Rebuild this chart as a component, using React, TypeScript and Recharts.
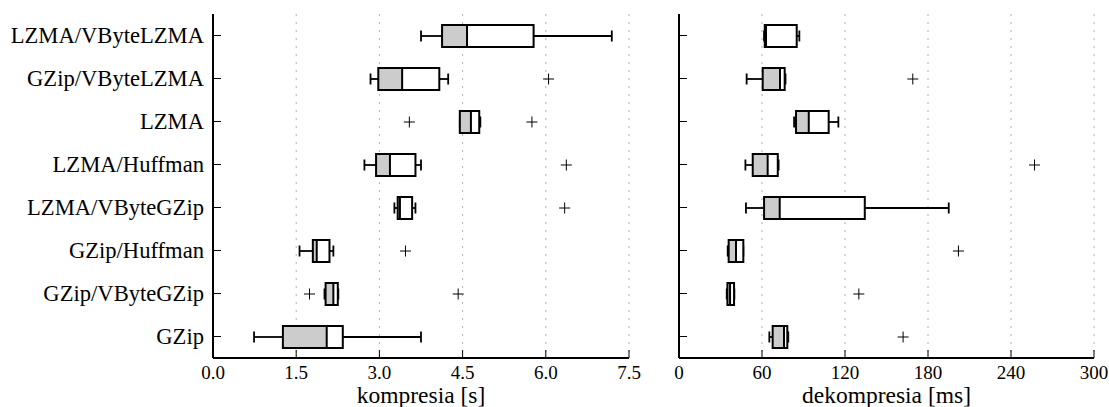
import { ComposedChart, Bar, XAxis, YAxis, CartesianGrid } from "recharts";

const categories = [
  "LZMA/VByteLZMA",
  "GZip/VByteLZMA",
  "LZMA",
  "LZMA/Huffman",
  "LZMA/VByteGZip",
  "GZip/Huffman",
  "GZip/VByteGZip",
  "GZip",
];

// kompresia [s]
const compLow = [3.75, 2.84, 4.45, 2.73, 3.27, 1.56, 2.01, 0.74];
const compQ1 = [4.13, 2.98, 4.45, 2.94, 3.33, 1.8, 2.03, 1.26];
const compMedian = [4.58, 3.41, 4.65, 3.19, 3.37, 1.87, 2.17, 2.05];
const compQ3 = [5.78, 4.08, 4.8, 3.65, 3.59, 2.1, 2.25, 2.34];
const compHigh = [7.19, 4.24, 4.82, 3.75, 3.65, 2.17, 2.26, 3.75];
const compOutliers = [[], [6.05], [3.54, 5.75], [6.37], [6.34], [3.47], [1.74, 4.42], []];
const compTicks = [0, 1.5, 3, 4.5, 6, 7.5];

// dekompresia [ms]
const decLow = [61.5, 48.9, 83.2, 48, 48.4, 35.2, 34.5, 65.3];
const decQ1 = [62, 60.5, 84.6, 53.3, 61.5, 35.9, 35, 67.7];
const decMedian = [62.9, 73, 93.8, 64.1, 72.8, 41.2, 36.9, 75.9];
const decQ3 = [85.1, 76.4, 108.2, 71.4, 134.3, 46.5, 39.8, 78.3];
const decHigh = [87, 77, 115.2, 72, 195, 46.5, 40, 79];
const decOutliers = [[], [169], [], [257], [], [202], [130], [162]];
const decTicks = [0, 60, 120, 180, 240, 300];

const FONT = "Liberation Serif";

type Row = {
  name: string;
  low: number;
  q1: number;
  median: number;
  q3: number;
  high: number;
  outliers: number[];
  span: [number, number];
};

function buildRows(
  low: number[],
  q1: number[],
  median: number[],
  q3: number[],
  high: number[],
  outliers: number[][],
): Row[] {
  return categories.map((name, i) => {
    const all = [low[i], high[i], ...outliers[i]];
    return {
      name,
      low: low[i],
      q1: q1[i],
      median: median[i],
      q3: q3[i],
      high: high[i],
      outliers: outliers[i],
      span: [Math.min(...all), Math.max(...all)],
    };
  });
}

const compRows = buildRows(compLow, compQ1, compMedian, compQ3, compHigh, compOutliers);
const decRows = buildRows(decLow, decQ1, decMedian, decQ3, decHigh, decOutliers);

// box drawn inside the range bar; positions come from the bar's own scaled x/width
function BoxShape(props: any) {
  const { x, y, width, height, payload } = props;
  const r: Row = payload;
  const [a, b] = r.span;
  const px = (v: number) => x + ((v - a) / (b - a)) * width;
  const cy = y + height / 2;
  const top = cy - 11;
  const h = 22;
  const cap = 5.5;
  const plus = 5.5;
  return (
    <g>
      <line x1={px(r.low)} x2={px(r.q1)} y1={cy} y2={cy} stroke="#000" strokeWidth={1.8} />
      <line x1={px(r.q3)} x2={px(r.high)} y1={cy} y2={cy} stroke="#000" strokeWidth={1.8} />
      <line x1={px(r.low)} x2={px(r.low)} y1={cy - cap} y2={cy + cap} stroke="#000" strokeWidth={1.8} />
      <line x1={px(r.high)} x2={px(r.high)} y1={cy - cap} y2={cy + cap} stroke="#000" strokeWidth={1.8} />
      <rect x={px(r.q1)} y={top} width={px(r.median) - px(r.q1)} height={h} fill="#cccccc" />
      <rect x={px(r.median)} y={top} width={px(r.q3) - px(r.median)} height={h} fill="#ffffff" />
      <rect
        x={px(r.q1)}
        y={top}
        width={px(r.q3) - px(r.q1)}
        height={h}
        fill="none"
        stroke="#000"
        strokeWidth={2}
      />
      <line x1={px(r.median)} x2={px(r.median)} y1={top} y2={top + h} stroke="#000" strokeWidth={2} />
      {r.outliers.map((o, k) => (
        <g key={k}>
          <line x1={px(o) - plus} x2={px(o) + plus} y1={cy} y2={cy} stroke="#000" strokeWidth={1} />
          <line x1={px(o)} x2={px(o)} y1={cy - plus} y2={cy + plus} stroke="#000" strokeWidth={1} />
        </g>
      ))}
    </g>
  );
}

function LeftTick(props: any) {
  const { x, y, payload, showLabel } = props;
  return (
    <g>
      <line x1={x + 9} x2={x + 17} y1={y} y2={y} stroke="#000" strokeWidth={1} />
      {showLabel && (
        <text x={x} y={y} dy="0.33em" textAnchor="end" fontFamily={FONT} fontSize={22.6} fill="#000">
          {payload.value}
        </text>
      )}
    </g>
  );
}

function RightTick(props: any) {
  const { x, y } = props;
  return <line x1={x - 8} x2={x} y1={y} y2={y} stroke="#000" strokeWidth={1} />;
}

function BottomTick(props: any) {
  const { x, y, payload, digits } = props;
  return (
    <g>
      <line x1={x} x2={x} y1={y} y2={y - 8} stroke="#000" strokeWidth={1} />
      <text x={x} y={y + 21} textAnchor="middle" fontFamily={FONT} fontSize={19} fill="#000">
        {payload.value.toFixed(digits)}
      </text>
    </g>
  );
}

type PanelProps = {
  rows: Row[];
  ticks: number[];
  digits: number;
  label: string;
  left: number;
  width: number;
  yWidth: number;
  rightMargin: number;
  showLabels: boolean;
};

function Panel({ rows, ticks, digits, label, left, width, yWidth, rightMargin, showLabels }: PanelProps) {
  const axis = { stroke: "#000", strokeWidth: 2 };
  return (
    <div style={{ position: "absolute", left, top: 0 }}>
      <ComposedChart
        width={width}
        height={407}
        layout="vertical"
        data={rows}
        margin={{ top: 14, right: rightMargin, bottom: 0, left: 0 }}
      >
        <CartesianGrid
          vertical={true}
          horizontal={false}
          stroke="#b0b0b0"
          strokeDasharray="2 6"
          verticalValues={ticks}
        />
        <XAxis
          type="number"
          domain={[ticks[0], ticks[ticks.length - 1]]}
          ticks={ticks}
          interval={0}
          height={49}
          axisLine={axis}
          tickLine={false}
          tickSize={0}
          tickMargin={0}
          tick={<BottomTick digits={digits} />}
          label={{
            value: label,
            position: "insideBottom",
            offset: 4,
            fontFamily: FONT,
            fontSize: 23.5,
            fill: "#000",
          }}
        />
        <XAxis
          xAxisId="top"
          orientation="top"
          type="number"
          domain={[ticks[0], ticks[ticks.length - 1]]}
          height={0}
          axisLine={axis}
          tick={false}
          tickLine={false}
        />
        <YAxis
          type="category"
          dataKey="name"
          width={yWidth}
          axisLine={axis}
          tickLine={false}
          tickSize={0}
          tickMargin={9}
          interval={0}
          tick={<LeftTick showLabel={showLabels} />}
        />
        <YAxis
          yAxisId="r"
          orientation="right"
          type="category"
          dataKey="name"
          width={0}
          axisLine={axis}
          tickLine={false}
          tickSize={0}
          tickMargin={0}
          interval={0}
          tick={<RightTick />}
        />
        <Bar dataKey="span" barSize={22} shape={<BoxShape />} isAnimationActive={false} />
      </ComposedChart>
    </div>
  );
}

export default function App() {
  return (
    <div style={{ position: "absolute", left: 0, top: 0, width: 1109, height: 407, background: "#fff" }}>
      <Panel
        rows={compRows}
        ticks={compTicks}
        digits={1}
        label="kompresia [s]"
        left={0}
        width={660}
        yWidth={213}
        rightMargin={31}
        showLabels={true}
      />
      <Panel
        rows={decRows}
        ticks={decTicks}
        digits={0}
        label="dekompresia [ms]"
        left={650}
        width={459}
        yWidth={29}
        rightMargin={15}
        showLabels={false}
      />
    </div>
  );
}
